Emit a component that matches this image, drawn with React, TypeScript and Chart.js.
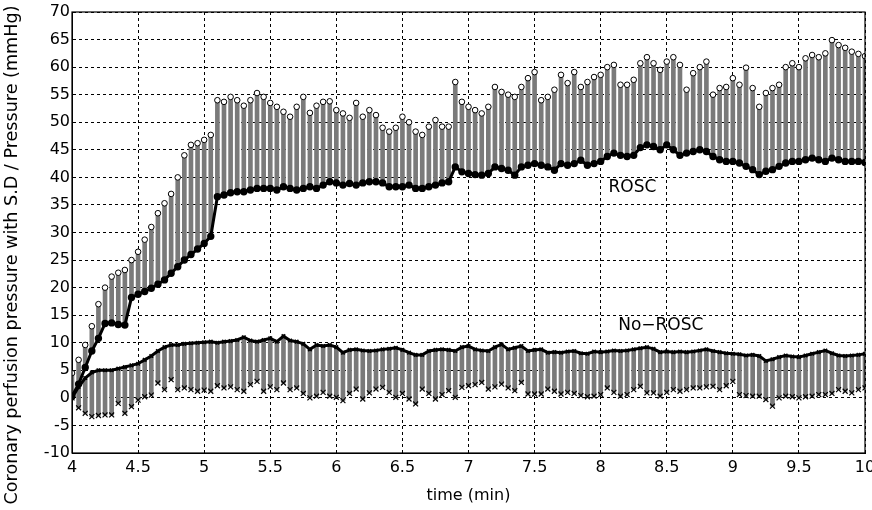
import React, { useEffect, useRef } from "react";
import { Chart, registerables } from "chart.js";

Chart.register(...registerables);

// time samples (min)
const TIME = [
  4.0, 4.05, 4.1, 4.15, 4.2, 4.25, 4.3, 4.35, 4.4, 4.45,
  4.5, 4.55, 4.6, 4.65, 4.7, 4.75, 4.8, 4.85, 4.9, 4.95,
  5.0, 5.05, 5.1, 5.15, 5.2, 5.25, 5.3, 5.35, 5.4, 5.45,
  5.5, 5.55, 5.6, 5.65, 5.7, 5.75, 5.8, 5.85, 5.9, 5.95,
  6.0, 6.05, 6.1, 6.15, 6.2, 6.25, 6.3, 6.35, 6.4, 6.45,
  6.5, 6.55, 6.6, 6.65, 6.7, 6.75, 6.8, 6.85, 6.9, 6.95,
  7.0, 7.05, 7.1, 7.15, 7.2, 7.25, 7.3, 7.35, 7.4, 7.45,
  7.5, 7.55, 7.6, 7.65, 7.7, 7.75, 7.8, 7.85, 7.9, 7.95,
  8.0, 8.05, 8.1, 8.15, 8.2, 8.25, 8.3, 8.35, 8.4, 8.45,
  8.5, 8.55, 8.6, 8.65, 8.7, 8.75, 8.8, 8.85, 8.9, 8.95,
  9.0, 9.05, 9.1, 9.15, 9.2, 9.25, 9.3, 9.35, 9.4, 9.45,
  9.5, 9.55, 9.6, 9.65, 9.7, 9.75, 9.8, 9.85, 9.9, 9.95,
  10.0,
];

// ROSC: mean pressure (thick line) and mean + S.D (open circles)
const ROSC_MEAN = [
  0.3, 2.5, 5.5, 8.5, 10.8, 13.5, 13.6, 13.3, 13.2, 18.2,
  18.8, 19.3, 19.9, 20.6, 21.4, 22.6, 23.8, 25.0, 26.0, 27.0,
  28.0, 29.3, 36.5, 36.8, 37.2, 37.4, 37.4, 37.7, 38.0, 38.0,
  38.0, 37.7, 38.3, 38.0, 37.7, 38.0, 38.3, 38.0, 38.6, 39.2,
  39.0, 38.6, 38.9, 38.6, 39.0, 39.2, 39.2, 39.0, 38.3, 38.3,
  38.3, 38.6, 38.0, 38.0, 38.3, 38.6, 39.0, 39.2, 41.9, 41.0,
  40.7, 40.5, 40.4, 40.7, 41.9, 41.6, 41.3, 40.4, 41.9, 42.2,
  42.5, 42.2, 41.9, 41.3, 42.5, 42.2, 42.5, 43.1, 42.2, 42.5,
  42.9, 43.8, 44.4, 44.0, 43.8, 44.0, 45.4, 45.9, 45.6, 45.0,
  45.9, 45.0, 44.0, 44.4, 44.7, 45.0, 44.7, 43.8, 43.2, 42.9,
  42.9, 42.6, 42.0, 41.4, 40.5, 41.1, 41.4, 42.0, 42.6, 42.9,
  42.9, 43.2, 43.5, 43.2, 42.9, 43.5, 43.2, 42.9, 42.9, 42.9,
  42.7,
];
const ROSC_UPPER = [
  4.5, 6.9, 9.6, 13.0, 17.0, 20.0, 22.0, 22.7, 23.2, 25.0,
  26.5, 28.7, 31.0, 33.5, 35.3, 37.0, 40.0, 44.0, 45.9, 46.2,
  46.8, 47.7, 54.0, 53.7, 54.6, 54.0, 53.0, 54.0, 55.3, 54.6,
  53.5, 52.8, 51.9, 51.0, 52.8, 54.6, 51.7, 53.0, 53.7, 53.8,
  52.2, 51.6, 50.8, 53.5, 51.0, 52.2, 51.3, 49.0, 48.3, 49.0,
  51.0, 50.0, 48.3, 47.7, 49.2, 50.4, 49.2, 49.2, 57.3, 53.7,
  52.8, 52.2, 51.6, 52.8, 56.4, 55.5, 55.0, 54.6, 56.4, 58.0,
  59.1, 54.0, 54.6, 55.9, 58.6, 57.1, 59.1, 56.4, 57.3, 58.2,
  58.6, 60.0, 60.4, 56.8, 56.8, 57.7, 60.7, 61.8, 60.7, 59.5,
  61.0, 61.8, 60.4, 55.9, 58.9, 60.0, 61.0, 55.0, 56.2, 56.4,
  58.0, 56.8, 59.9, 56.2, 52.8, 55.3, 56.2, 56.8, 60.0, 60.7,
  60.0, 61.6, 62.2, 61.8, 62.5, 64.9, 64.0, 63.5, 62.8, 62.4,
  62.0,
];

// No-ROSC: mean pressure (thick line) and mean - S.D (crosses)
const NOROSC_MEAN = [
  0.0, 2.0, 3.6, 4.6, 5.0, 5.0, 5.0, 5.3, 5.6, 5.9,
  6.2, 6.9, 7.6, 8.5, 9.2, 9.6, 9.6, 9.8, 9.9, 10.0,
  10.1, 10.2, 10.0, 10.2, 10.3, 10.5, 11.0, 10.4, 10.2, 10.5,
  10.8, 10.2, 11.2, 10.4, 10.2, 9.8, 8.8, 9.6, 9.4, 9.6,
  9.2, 8.2, 8.7, 8.8, 8.6, 8.5, 8.6, 8.8, 8.9, 9.1,
  8.7, 8.2, 7.8, 7.8, 8.5, 8.7, 8.8, 8.7, 8.5, 9.2,
  9.4, 8.8, 8.6, 8.5, 9.2, 9.7, 8.8, 9.1, 9.4, 8.5,
  8.7, 8.8, 8.2, 8.3, 8.2, 8.4, 8.5, 8.1, 8.0, 8.4,
  8.3, 8.4, 8.6, 8.5, 8.6, 8.8, 9.0, 9.2, 8.9, 8.3,
  8.4, 8.3, 8.4, 8.3, 8.4, 8.6, 8.8, 8.5, 8.3, 8.1,
  8.0, 7.9, 7.7, 7.8, 7.6, 6.7, 7.0, 7.4, 7.7, 7.5,
  7.4, 7.7, 8.0, 8.3, 8.6, 8.1, 7.7, 7.6, 7.7, 7.8,
  8.0,
];
const NOROSC_LOWER = [
  0.0, -1.8, -2.8, -3.4, -3.2, -3.1, -3.1, -1.0, -2.8, -1.6,
  -0.4, 0.2, 0.5, 2.7, 1.5, 3.3, 1.5, 1.8, 1.5, 1.2,
  1.4, 1.2, 2.2, 1.8, 2.0, 1.5, 1.2, 2.4, 3.0, 1.2,
  2.0, 1.5, 2.7, 1.5, 1.8, 0.8, 0.0, 0.3, 1.0, 0.3,
  0.1, -0.5, 0.8, 1.6, -0.2, 0.9, 1.6, 1.9, 1.0, 0.1,
  0.8, -0.2, -1.1, 1.6, 0.8, -0.2, 0.6, 1.3, 0.1, 1.9,
  2.2, 2.4, 2.8, 1.6, 2.0, 2.5, 1.8, 1.3, 2.8, 0.7,
  0.7, 0.7, 1.6, 1.2, 0.7, 1.0, 0.8, 0.4, 0.2, 0.3,
  0.6, 1.8, 1.0, 0.3, 0.6, 1.5, 2.1, 0.9, 0.9, 0.3,
  1.0, 1.5, 1.2, 1.5, 1.8, 1.8, 2.0, 2.1, 1.5, 2.2,
  3.0, 0.6, 0.4, 0.3, 0.3, -0.3, -1.5, 0.0, 0.3, 0.2,
  0.0, 0.2, 0.3, 0.6, 0.6, 0.8, 1.5, 1.2, 0.9, 1.5,
  1.8,
];

const X_MIN = 4;
const X_MAX = 10;
const X_STEP = 0.5;
const Y_MIN = -10;
const Y_MAX = 70;
const Y_STEP = 5;

const X_TITLE = "time (min)";
const Y_TITLE = "Coronary perfusion pressure with S.D / Pressure (mmHg)";
const LABELS = [
  { text: "ROSC", x: 8.24, y: 38.1 },
  { text: "No\u2212ROSC", x: 8.455, y: 13.2 },
];

const FONT = "'DejaVu Sans', sans-serif";

const overlayPlugin = {
  id: "overlay",
  afterDatasetsDraw(chart: any) {
    const { ctx, scales } = chart;
    ctx.save();
    ctx.fillStyle = "#000";
    ctx.font = `17px ${FONT}`;
    ctx.textAlign = "center";
    ctx.textBaseline = "middle";
    for (const l of LABELS) {
      ctx.fillText(l.text, scales.x.getPixelForValue(l.x), scales.y.getPixelForValue(l.y));
    }
    ctx.restore();
  },
  afterDraw(chart: any) {
    const { ctx, chartArea } = chart;
    ctx.save();
    ctx.strokeStyle = "#000";
    ctx.lineWidth = 1.2;
    ctx.setLineDash([]);
    ctx.strokeRect(chartArea.left, chartArea.top, chartArea.right - chartArea.left, chartArea.bottom - chartArea.top);
    ctx.fillStyle = "#000";
    ctx.font = `16px ${FONT}`;
    ctx.textAlign = "center";
    ctx.textBaseline = "middle";
    ctx.fillText(X_TITLE, (chartArea.left + chartArea.right) / 2, 496);
    ctx.font = `17.6px ${FONT}`;
    ctx.translate(12, 255);
    ctx.rotate(-Math.PI / 2);
    ctx.fillText(Y_TITLE, 0, 0);
    ctx.restore();
  },
};

export default function App() {
  const ref = useRef<HTMLCanvasElement | null>(null);
  useEffect(() => {
    if (!ref.current) return;
    const pts = (ys: number[]) => TIME.map((t, i) => ({ x: t, y: ys[i] }));
    const range = (a: number[], b: number[]) => TIME.map((t, i) => ({ x: t, y: [a[i], b[i]] }));
    const chart = new Chart(ref.current, {
      type: "bar",
      data: {
        datasets: [
          {
            type: "bar",
            data: range(ROSC_MEAN, ROSC_UPPER) as any,
            backgroundColor: "#7a7a7a",
            borderWidth: 0,
            barThickness: 4,
            grouped: false,
            order: 5,
          },
          {
            type: "bar",
            data: range(NOROSC_LOWER, NOROSC_MEAN) as any,
            backgroundColor: "#7a7a7a",
            borderWidth: 0,
            barThickness: 4,
            grouped: false,
            order: 5,
          },
          {
            type: "line",
            data: pts(ROSC_MEAN),
            borderColor: "#000",
            borderWidth: 3,
            pointRadius: 2.2,
            pointBackgroundColor: "#000",
            pointBorderColor: "#000",
            tension: 0,
            order: 2,
          },
          {
            type: "line",
            data: pts(NOROSC_MEAN),
            borderColor: "#000",
            borderWidth: 3,
            pointStyle: "crossRot",
            pointRadius: 2.5,
            pointBorderColor: "#000",
            pointBorderWidth: 1.5,
            tension: 0,
            order: 2,
          },
          {
            type: "line",
            data: pts(ROSC_UPPER),
            showLine: false,
            pointStyle: "circle",
            pointRadius: 2.8,
            pointBackgroundColor: "#fff",
            pointBorderColor: "#000",
            pointBorderWidth: 1,
            order: 1,
          },
          {
            type: "line",
            data: pts(NOROSC_LOWER),
            showLine: false,
            pointStyle: "crossRot",
            pointRadius: 3.5,
            pointBorderColor: "#000",
            pointBorderWidth: 1.2,
            order: 1,
          },
        ] as any,
      },
      options: {
        animation: false,
        responsive: false,
        devicePixelRatio: 1,
        layout: { padding: { top: 12, right: 4, left: 0, bottom: 0 } },
        plugins: { legend: { display: false }, tooltip: { enabled: false } },
        scales: {
          x: {
            type: "linear",
            min: X_MIN,
            max: X_MAX,
            offset: false,
            afterFit: (s: any) => {
              s.height = 57;
              s.paddingLeft = 0;
              s.paddingRight = 0;
            },
            ticks: {
              stepSize: X_STEP,
              autoSkip: false,
              maxRotation: 0,
              color: "#000",
              padding: 5,
              font: { family: FONT, size: 16 },
              callback: (v: any) => String(Number(v)),
            },
            grid: { color: "#000", lineWidth: 1, drawTicks: false, offset: false },
            border: { display: true, color: "#000", width: 1, dash: [3, 3] },
          },
          y: {
            type: "linear",
            min: Y_MIN,
            max: Y_MAX,
            afterFit: (s: any) => {
              s.width = 72;
              s.paddingTop = 0;
              s.paddingBottom = 0;
            },
            ticks: {
              stepSize: Y_STEP,
              color: "#000",
              padding: 2,
              font: { family: FONT, size: 16 },
              callback: (v: any) => String(Number(v)),
            },
            grid: { color: "#000", lineWidth: 1, drawTicks: false },
            border: { display: true, color: "#000", width: 1, dash: [3, 3] },
          },
        },
      } as any,
      plugins: [overlayPlugin],
    });
    return () => chart.destroy();
  }, []);
  return (
    <div style={{ position: "absolute", left: 0, top: 0, width: 872, height: 510, background: "#fff" }}>
      <canvas ref={ref} width={872} height={510} style={{ display: "block" }} />
    </div>
  );
}
